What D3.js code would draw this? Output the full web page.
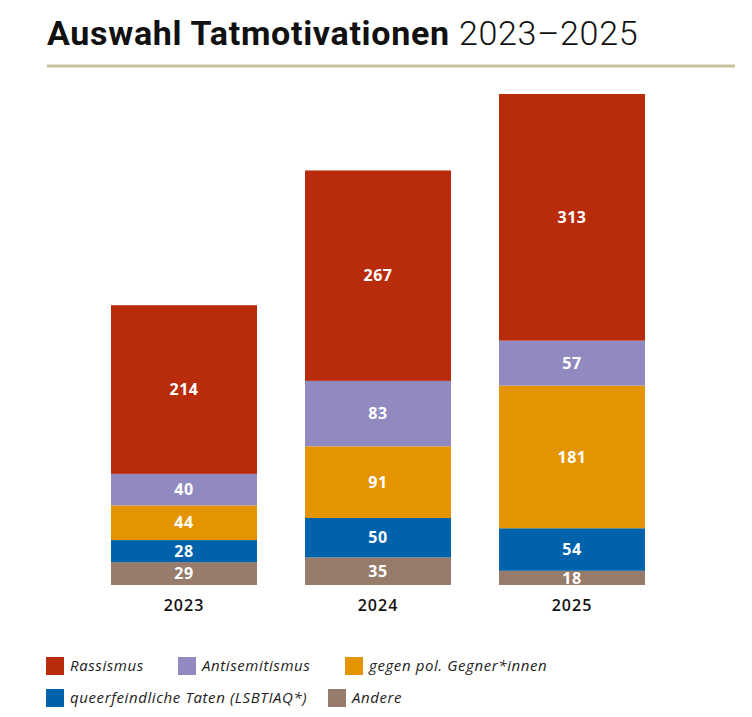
<!DOCTYPE html>
<html><head><meta charset="utf-8">
<script src="https://cdn.jsdelivr.net/npm/d3@7"></script>
<style>body{margin:0;background:#fff}svg{display:block}</style>
</head><body>
<script>
const years = ["2023","2024","2025"];
const seriesNames = ["Andere","queerfeindliche Taten (LSBTIAQ*)","gegen pol. Gegner*innen","Antisemitismus","Rassismus"];
const andere = [29,35,18];
const queer = [28,50,54];
const gegner = [44,91,181];
const antisem = [40,83,57];
const rassismus = [214,267,313];
const colors = ["#977c6b","#0062ab","#e49400","#918ac0","#b92c0b"];
const legendOrder = [4,3,2,1,0];

const W=752,H=717;
const svg=d3.select("body").append("svg").attr("width",W).attr("height",H);
const font="'Open Sans', sans-serif";

// title
const t=svg.append("text").attr("x",47).attr("y",45).attr("font-family","Roboto, sans-serif").attr("font-size",34).attr("letter-spacing",0.7).attr("fill","#111");
t.append("tspan").attr("font-weight",700).text("Auswahl Tatmotivationen ");
t.append("tspan").attr("font-weight",300).text("2023–2025");
svg.append("line").attr("x1",47).attr("x2",735).attr("y1",66).attr("y2",66).attr("stroke","#c5c29e").attr("stroke-width",3);

const vals=[andere,queer,gegner,antisem,rassismus];
const data=years.map((y,i)=>{const o={year:y};seriesNames.forEach((s,k)=>o[s]=vals[k][i]);return o;});
const stack=d3.stack().keys(seriesNames)(data);

const x=d3.scaleBand().domain(years).range([87,669]).paddingInner(48/194).paddingOuter(24/194);
const y=d3.scaleLinear().domain([0,623]).range([585,94]);

const g=svg.append("g");
stack.forEach((layer,k)=>{
  g.selectAll(null).data(layer).enter().append("rect")
   .attr("x",d=>x(d.data.year)).attr("width",x.bandwidth())
   .attr("y",d=>y(d[1])).attr("height",d=>y(d[0])-y(d[1]))
   .attr("fill",colors[k]);
  g.selectAll(null).data(layer).enter().append("text")
   .attr("x",d=>x(d.data.year)+x.bandwidth()/2)
   .attr("y",d=>(y(d[0])+y(d[1]))/2)
   .attr("dy","0.36em").attr("text-anchor","middle")
   .attr("font-family",font).attr("font-weight",700).attr("font-size",16).attr("letter-spacing",0.5).attr("fill","#fff")
   .text(d=>d[1]-d[0]);
});

const xa=svg.append("g").attr("transform","translate(0,585)").call(d3.axisBottom(x).tickSize(0).tickPadding(15));
xa.select(".domain").remove();
xa.selectAll("text").attr("font-family",font).attr("font-size",16).attr("font-weight",600).attr("letter-spacing",1).attr("fill","#111");

// legend
const legPos=[[46,657],[178,657],[345,657],[46,689],[328,689]];
legendOrder.forEach((k,i)=>{
  const [lx,ly]=legPos[i];
  svg.append("rect").attr("x",lx).attr("y",ly).attr("width",18).attr("height",18).attr("fill",colors[k]);
  svg.append("text").attr("x",lx+24).attr("y",ly+9).attr("dy","0.35em")
   .attr("font-family",font).attr("font-style","italic").attr("font-size",15).attr("letter-spacing",0.6).attr("fill","#222")
   .text(seriesNames[k]);
});
</script>
</body></html>
